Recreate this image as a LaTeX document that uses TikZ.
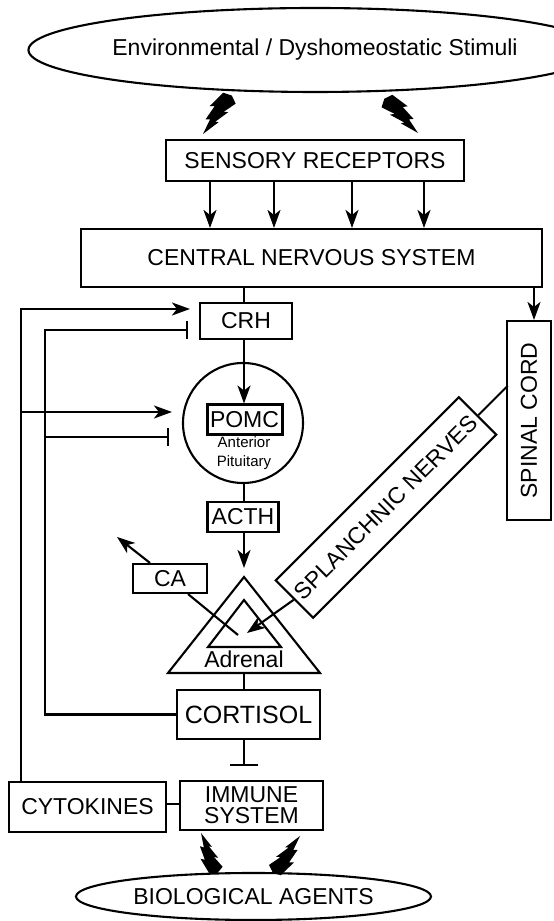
\documentclass[tikz,border=0pt]{standalone}
\usepackage{fontspec}
\setmainfont{Liberation Sans}
\usetikzlibrary{arrows.meta,shapes.geometric,calc}

\tikzset{
  wire/.style={line width=2.1pt},
  box/.style={draw, wire, inner sep=0pt, align=center},
  oval/.style={draw, wire, ellipse, inner sep=0pt},
  arr/.style={wire, -{Stealth[length=18pt,width=13pt,inset=5pt]}},
  blk/.style={wire, -{Bar[width=18pt]}},
  blkwide/.style={wire, -{Bar[width=28pt]}},
  zap/.pic={
    \fill (0,0) -- (16,3.5) -- (13,7) -- (29,8) -- (26,12) -- (45,9.5) -- (48,1)
      -- (44,-7) -- (30,-2.5) -- (33,-6.5) -- (17,-2) -- (19,-5) -- cycle;
  }
}

\begin{document}
\begin{tikzpicture}[x=1pt,y=1pt, every node/.style={font=\fontsize{23}{26}\selectfont}]
\useasboundingbox (0,0) rectangle (554,921);

% vertical guide columns
\coordinate (col) at (244,0);
\coordinate (lo) at (21,0);
\coordinate (li) at (45,0);
\coordinate (sx) at (534,0);

% stimuli and sensing
\node[oval, minimum width=474pt, minimum height=84pt] (env) at (315,871) {Environmental / Dyshomeostatic Stimuli};
\node[box, minimum width=298pt, minimum height=41pt] (sr) at (315,760.5) {SENSORY RECEPTORS};
\node[box, minimum width=461pt, minimum height=58pt] (cns) at (311.5,663) {CENTRAL NERVOUS SYSTEM};

\foreach \x [count=\i] in {210,274,352,424} {
  \coordinate (t\i) at (\x,0);
  \draw[arr] (sr.south -| t\i) -- (cns.north -| t\i);
}

% lightning strikes
\coordinate (z1) at (203,787);
\coordinate (z2) at (418,788);
\coordinate (z3) at (201,88);
\coordinate (z4) at (300,85);
\pic[rotate=51.9] at (z1) {zap};
\pic[rotate=135.8, yscale=-1] at (z2) {zap};
\pic[rotate=-66.4, yscale=-1, scale=0.9] at (z3) {zap};
\pic[rotate=-127.9, scale=0.95] at (z4) {zap};

% HPA axis
\node[box, minimum width=92pt, minimum height=36pt] (crh) at (246,600) {CRH};
\node[circle, draw, wire, minimum size=120pt, inner sep=0pt] (pit) at (243,498) {};
\node[box, line width=3pt, minimum width=75pt, minimum height=30pt] (pomc) at (244.5,501) {POMC};
\node[font=\fontsize{15}{19}\selectfont, align=center] (ap) at (244,467.5) {Anterior\\Pituitary};
\node[box, minimum width=71pt, minimum height=30pt] (acth) at (243,404) {ACTH};

\draw[wire] (cns.south -| col) -- (crh.north -| col);
\draw[arr] (crh.south -| col) -- (pomc.north -| col);
\draw[wire] (pit.south -| col) -- (acth.north -| col);

% adrenal gland
\coordinate (apex) at (244,344);
\coordinate (abase) at (244,248);
\draw[wire] (168,248) -- (apex) -- (320,248) -- cycle;
\draw[wire] (208,274) -- (244,321) -- (281,274) -- cycle;
\node (adr) at (244,262) {Adrenal};
\draw[arr, shorten >=9pt] (acth.south -| col) -- (apex);

\node[box, minimum width=143pt, minimum height=49pt, font=\fontsize{25}{28}\selectfont] (cort) at (248.5,206.5) {CORTISOL};
\draw[wire] (abase) -- (cort.north -| col);

% catecholamines
\node[box, minimum width=74pt, minimum height=29pt] (ca) at (170,342.5) {CA};
\coordinate (caout) at (117,384);
\coordinate (catip) at (238,286);
\draw[arr] ([xshift=-20pt]ca.north) -- (caout);
\draw[wire] ([xshift=18pt]ca.south) -- (catip);

% sympathetic branch
\node[box, rotate=90, minimum width=199pt, minimum height=44pt] (sc) at (529,500.5) {SPINAL CORD};
\draw[arr] (cns.south -| sx) -- (sc.east -| sx);
\node[box, rotate=45, minimum width=259pt, minimum height=53pt] (sn) at (386,413.5) {SPLANCHNIC NERVES};
\draw[wire] (sn.east) -- ++(45:41.6);
\coordinate (snt) at (247,288);
\draw[arr] (sn.west) -- (snt);

% immune side
\node[box, minimum width=143pt, minimum height=49pt, font=\fontsize{23}{21}\selectfont] (imm) at (251.5,115.5) {IMMUNE\\SYSTEM};
\node[box, minimum width=157pt, minimum height=50pt] (cyt) at (87.5,114) {CYTOKINES};
\draw[wire] ([yshift=3pt]cyt.east) -- ([yshift=3pt]cyt.east -| imm.west);
\draw[blkwide, shorten >=14pt] (cort.south -| col) -- (imm.north -| col);
\node[oval, minimum width=355pt, minimum height=47pt] (bio) at (253.5,24.5) {BIOLOGICAL AGENTS};

% feedback loops
\coordinate (crhin) at ([yshift=12pt]crh.west);
\coordinate (crhbar) at ([yshift=-9pt]crh.west);
\coordinate (pin) at ([yshift=11pt]pit.west);
\coordinate (pbar) at ([yshift=-14pt]pit.west);
\draw[arr, shorten >=9pt] (cyt.north -| lo) |- (crhin);
\draw[arr, shorten >=10pt] (lo |- pin) -- (pin);
\draw[blk, shorten >=11pt] (cort.west) -| (li |- crhbar) -- (crhbar);
\draw[blk, shorten >=13pt] (li |- pbar) -- (pbar);
\end{tikzpicture}
\end{document}
